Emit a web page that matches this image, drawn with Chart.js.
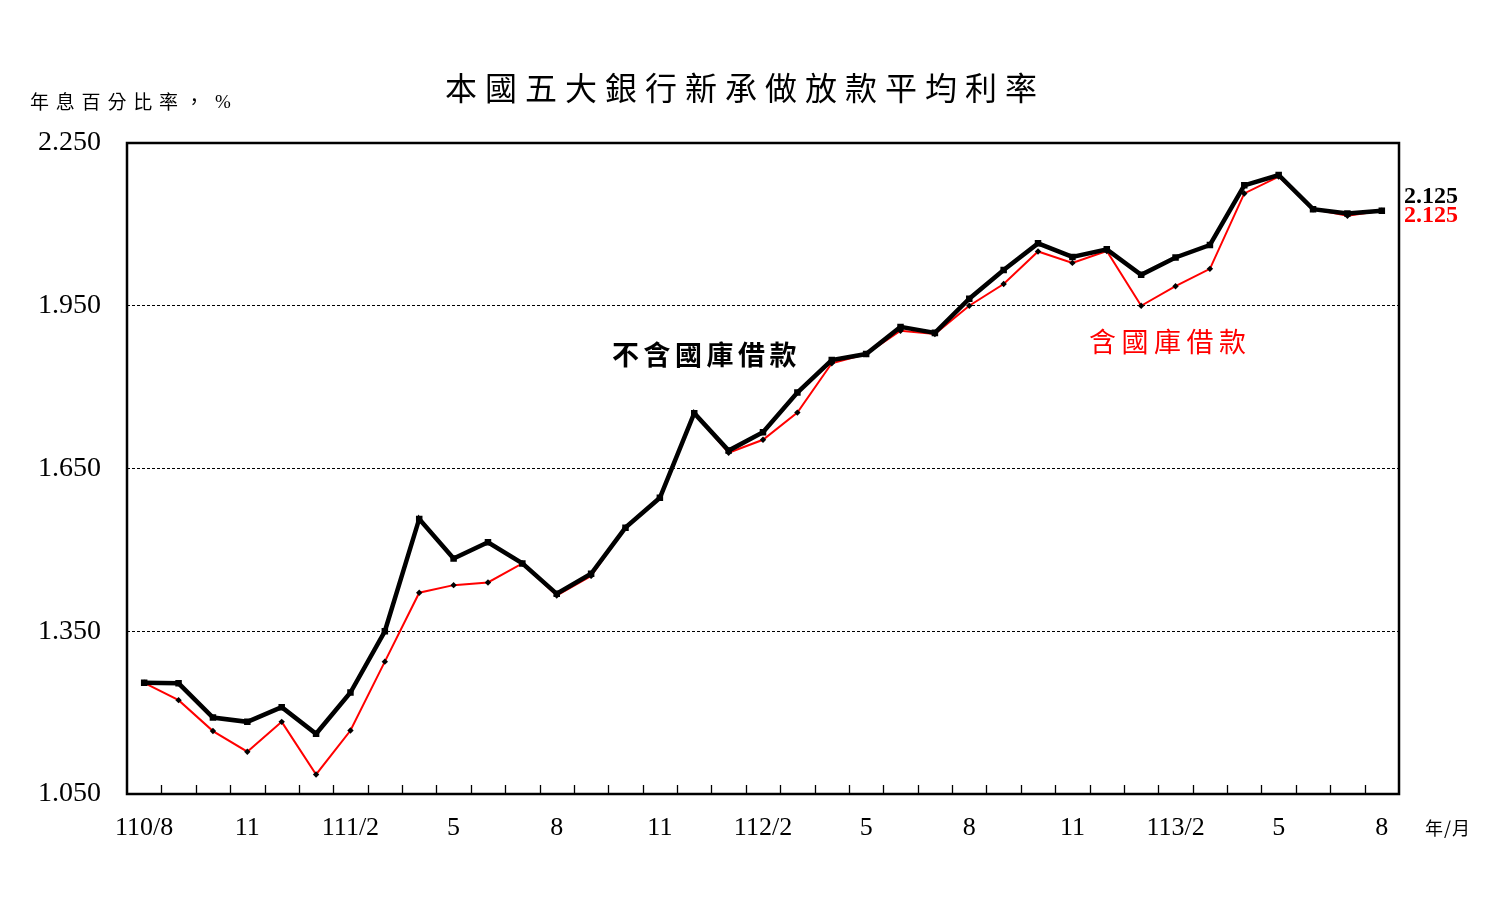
<!DOCTYPE html>
<html>
<head>
<meta charset="utf-8">
<title>本國五大銀行新承做放款平均利率</title>
<script src="https://cdn.jsdelivr.net/npm/chart.js@4.4.1/dist/chart.umd.min.js"></script>
<style>
  html, body { margin: 0; padding: 0; background: #fff; }
  #wrap { width: 1511px; height: 922px; }
</style>
</head>
<body>
<div id="wrap"><canvas id="myChart" width="1511" height="922"></canvas></div>
<script>
// months 110/8 .. 113/8 (ROC year / month)
var months = ['110/8', '110/9', '110/10', '110/11', '110/12',
    '111/1', '111/2', '111/3', '111/4', '111/5', '111/6', '111/7', '111/8', '111/9', '111/10', '111/11', '111/12',
    '112/1', '112/2', '112/3', '112/4', '112/5', '112/6', '112/7', '112/8', '112/9', '112/10', '112/11', '112/12',
    '113/1', '113/2', '113/3', '113/4', '113/5', '113/6', '113/7', '113/8'];

// shown every 3rd month
var tickLabels = ['110/8', '11', '111/2', '5', '8', '11', '112/2', '5', '8', '11', '113/2', '5', '8'];

// 不含國庫借款
var exTreasury = [1.255, 1.254, 1.191, 1.183, 1.210, 1.161, 1.237, 1.350, 1.557, 1.484,
    1.514, 1.475, 1.419, 1.456, 1.541, 1.596, 1.752, 1.683, 1.717, 1.790,
    1.850, 1.861, 1.911, 1.900, 1.963, 2.016, 2.065, 2.040, 2.054, 2.007,
    2.039, 2.062, 2.172, 2.191, 2.128, 2.120, 2.125];

// 含國庫借款
var inTreasury = [1.255, 1.223, 1.166, 1.128, 1.183, 1.086, 1.167, 1.294, 1.421, 1.435,
    1.440, 1.475, 1.416, 1.452, 1.541, 1.596, 1.752, 1.679, 1.703, 1.753,
    1.844, 1.861, 1.904, 1.898, 1.950, 1.990, 2.050, 2.029, 2.051, 1.950,
    1.986, 2.018, 2.157, 2.188, 2.128, 2.116, 2.125];

var yTicks = [1.050, 1.350, 1.650, 1.950, 2.250];

var SERIF = "'Liberation Serif', 'Times New Roman', serif";
var CJK = "'Noto Sans CJK TC', 'Noto Sans CJK SC', sans-serif";

function drawSpaced(ctx, text, x, y, font, color, spacing) {
    ctx.save();
    ctx.font = font;
    ctx.fillStyle = color;
    ctx.textAlign = 'left';
    ctx.textBaseline = 'middle';
    ctx.letterSpacing = spacing + 'px';
    ctx.fillText(text, x, y);
    ctx.restore();
}

// frame, inward tick marks and all the loose texts
var decorPlugin = {
    id: 'decor',
    afterDatasetsDraw: function (chart) {
        var ctx = chart.ctx, a = chart.chartArea, xs = chart.scales.x;
        ctx.save();
        ctx.strokeStyle = '#000';
        ctx.lineWidth = 1.3;
        ctx.beginPath();
        for (var i = 0; i < months.length - 1; i++) {
            var x = Math.round((xs.getPixelForValue(i) + xs.getPixelForValue(i + 1)) / 2) + 0.5;
            ctx.moveTo(x, a.bottom - 9);
            ctx.lineTo(x, a.bottom);
        }
        ctx.stroke();
        ctx.lineWidth = 2.5;
        ctx.strokeRect(a.left, a.top, a.right - a.left, a.bottom - a.top);
        ctx.restore();
    },
    afterDraw: function (chart) {
        var ctx = chart.ctx, a = chart.chartArea;
        drawSpaced(ctx, '本國五大銀行新承做放款平均利率', 445, 88, '32px ' + CJK, '#000', 8);
        drawSpaced(ctx, '年息百分比率，', 30, 102, '19px ' + CJK, '#000', 6.8);
        drawSpaced(ctx, '%', 215, 103, '19px ' + SERIF, '#000', 0);
        drawSpaced(ctx, '年/月', 1425, 828, '18px ' + CJK, '#000', 1);
        drawSpaced(ctx, '不含國庫借款', 612, 355, 'bold 27px ' + CJK, '#000', 4.5);
        drawSpaced(ctx, '含國庫借款', 1089, 342, '27px ' + CJK, '#ff0000', 5.5);

        // end values next to the right edge
        var last = months.length - 1;
        drawSpaced(ctx, exTreasury[last].toFixed(3), a.right + 5, 197, 'bold 24px ' + SERIF, '#000', 0);
        drawSpaced(ctx, inTreasury[last].toFixed(3), a.right + 5, 216, 'bold 24px ' + SERIF, '#ff0000', 0);
    }
};

var ctx = document.getElementById('myChart');
var myLineChart = new Chart(ctx, {
    type: 'line',
    data: {
        labels: months,
        datasets: [
            {
                label: '不含國庫借款',
                data: exTreasury,
                borderColor: '#000',
                borderWidth: 4.5,
                tension: 0,
                pointStyle: 'rect',
                pointRadius: 4.6,
                pointBackgroundColor: '#000',
                pointBorderWidth: 0
            },
            {
                label: '含國庫借款',
                data: inTreasury,
                borderColor: '#ff0000',
                borderWidth: 2,
                tension: 0,
                pointStyle: 'rectRot',
                pointRadius: 3.2,
                pointBackgroundColor: '#000',
                pointBorderWidth: 0
            }
        ]
    },
    options: {
        responsive: false,
        animation: false,
        devicePixelRatio: 1,
        layout: { padding: { top: 143, right: 112, left: 0, bottom: 0 } },
        plugins: {
            legend: { display: false },
            tooltip: { enabled: false },
            title: { display: false }
        },
        scales: {
            x: {
                type: 'category',
                offset: true,
                grid: { display: false, drawTicks: false },
                border: { display: false },
                ticks: {
                    autoSkip: false,
                    maxRotation: 0,
                    padding: 19,
                    color: '#000',
                    font: { family: SERIF, size: 26 },
                    callback: function (v, i) {
                        return i % 3 === 0 ? tickLabels[i / 3] : null;
                    }
                },
                afterFit: function (s) { s.height = 128; }
            },
            y: {
                min: yTicks[0],
                max: yTicks[yTicks.length - 1],
                grid: {
                    drawTicks: false,
                    lineWidth: 1,
                    color: function (c) {
                        var v = c.tick.value;
                        return (v > yTicks[0] + 0.01 && v < yTicks[yTicks.length - 1] - 0.01) ? '#000' : 'rgba(0,0,0,0)';
                    }
                },
                border: { display: false, dash: [3, 2] },
                ticks: {
                    stepSize: 0.3,
                    padding: 26,
                    color: '#000',
                    font: { family: SERIF, size: 28 },
                    callback: function (v) { return v.toFixed(3); }
                },
                afterFit: function (s) { s.width = 127; }
            }
        }
    },
    plugins: [decorPlugin]
});
</script>
</body>
</html>
